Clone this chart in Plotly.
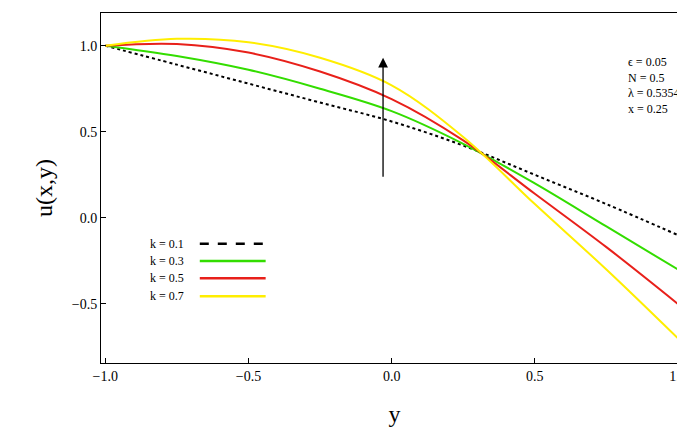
import plotly.graph_objects as go

y_vals = [-1.0, -0.75, -0.5, -0.25, 0.0, 0.25, 0.5, 0.75, 1.0]
u_k01 = [1.0, 0.89, 0.78, 0.67, 0.56, 0.42, 0.25, 0.08, -0.10]
u_k03 = [1.0, 0.94, 0.86, 0.75, 0.62, 0.43, 0.20, -0.05, -0.30]
u_k05 = [1.0, 1.01, 0.96, 0.85, 0.69, 0.45, 0.14, -0.17, -0.50]
u_k07 = [1.0, 1.04, 1.02, 0.93, 0.77, 0.47, 0.08, -0.30, -0.70]
labels = ["k = 0.1", "k = 0.3", "k = 0.5", "k = 0.7"]
colors = ["black", "#33dd00", "#e8201a", "#ffee00"]
dashes = ["dot", "solid", "solid", "solid"]
legend_rows = [-0.15, -0.25, -0.35, -0.455]

fig = go.Figure()
for u, lab, c, d in zip([u_k01, u_k03, u_k05, u_k07], labels, colors, dashes):
    fig.add_trace(go.Scatter(x=y_vals, y=u, mode="lines", name=lab, showlegend=False,
                             line=dict(color=c, dash=d, width=2, shape="spline")))

for lab, c, d, ry in zip(labels, colors, dashes, legend_rows):
    fig.add_annotation(x=-0.85, y=ry, xref="x", yref="y", text=lab, showarrow=False, xanchor="left",
                       font=dict(family="Liberation Serif", size=12, color="black"))
    fig.add_shape(type="line", x0=-0.67, x1=-0.44, y0=ry, y1=ry, xref="x", yref="y",
                  line=dict(color=c, width=2.5, dash="dash" if d == "dot" else "solid"))

fig.add_annotation(x=-0.03, y=0.93, ax=-0.03, ay=0.23, xref="x", yref="y", axref="x", ayref="y",
                   showarrow=True, arrowhead=2, arrowsize=1.5, arrowwidth=1.3, arrowcolor="black", text="")
fig.add_annotation(x=0.82, y=0.96, xref="x", yref="y", showarrow=False, align="left", xanchor="left", yanchor="top",
                   text="ϵ = 0.05<br>N = 0.5<br>λ = 0.5354<br>x = 0.25",
                   font=dict(family="Liberation Serif", size=12, color="black"))

axis = dict(showgrid=False, zeroline=False, showline=True, linecolor="black", mirror=True, automargin=False,
            ticks="inside", tickcolor="black", ticklen=5, tickfont=dict(family="Liberation Serif", size=14, color="black"))
fig.update_layout(
    width=685, height=439, plot_bgcolor="white", paper_bgcolor="white",
    margin=dict(l=93, r=5, t=5, b=84),
    xaxis=dict(axis, range=[-1.015, 1.035], tickvals=[-1, -0.5, 0, 0.5, 1],
               ticktext=["\u22121.0", "\u22120.5", "0.0", "0.5", "1.0"],
               title=dict(text="y", font=dict(family="Liberation Serif", size=24, color="black"), standoff=22)),
    yaxis=dict(axis, range=[-0.843, 1.19], tickvals=[-0.5, 0, 0.5, 1],
               ticktext=["\u22120.5", "0.0", "0.5", "1.0"],
               title=dict(text="u(x,y)", font=dict(family="Liberation Serif", size=24, color="black"), standoff=12)),
)
fig.write_html("out.html")
